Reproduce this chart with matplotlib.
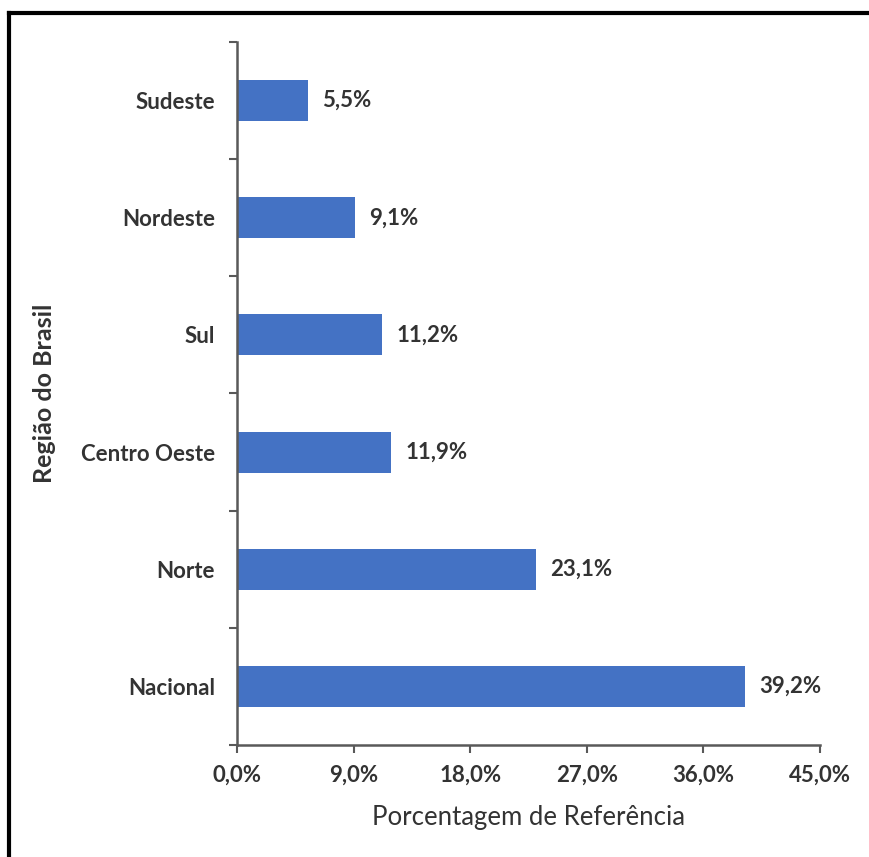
import matplotlib.pyplot as plt
from matplotlib.lines import Line2D
from matplotlib.ticker import FuncFormatter

regioes = ["Nacional", "Norte", "Centro Oeste", "Sul", "Nordeste", "Sudeste"]
percentuais = [39.2, 23.1, 11.9, 11.2, 9.1, 5.5]
xticks = [0, 9, 18, 27, 36, 45]

plt.rcParams['font.family'] = ['Lato', 'DejaVu Sans']
cor_barra = '#4472C4'
cor_texto = '#333333'
cor_eixo = '#595959'

fig = plt.figure(figsize=(8.69, 8.57), dpi=100)
ax = fig.add_axes([0.2727, 0.1307, 0.6709, 0.8203])

pos = range(len(regioes))
ax.barh(pos, percentuais, height=0.35, color=cor_barra)
for y, v in zip(pos, percentuais):
    ax.text(v + 1.1, y, f"{v:.1f}%".replace('.', ','), va='center', ha='left',
            fontsize=16, fontweight='bold', color=cor_texto)

ax.set_xlim(0, 45)
ax.set_ylim(-0.5, len(regioes) - 0.5)
ax.set_xticks(xticks)
ax.xaxis.set_major_formatter(FuncFormatter(lambda v, p: f"{v:.1f}%".replace('.', ',')))
ax.set_yticks(list(pos))
ax.set_yticklabels(regioes)
# marcas do eixo y ficam entre as categorias
ax.set_yticks([i - 0.5 for i in range(len(regioes) + 1)], minor=True)
ax.tick_params(axis='y', which='major', length=0, pad=16, labelsize=16, labelcolor=cor_texto)
ax.tick_params(axis='y', which='minor', length=6, width=1.5, color=cor_eixo)
ax.tick_params(axis='x', length=6, width=1.5, color=cor_eixo, pad=8, labelsize=16, labelcolor=cor_texto)
for lbl in ax.get_xticklabels() + ax.get_yticklabels():
    lbl.set_fontweight('bold')

for s in ['top', 'right']:
    ax.spines[s].set_visible(False)
for s in ['left', 'bottom']:
    ax.spines[s].set_color(cor_eixo)
    ax.spines[s].set_linewidth(1.8)

ax.set_xlabel("Porcentagem de Referência", fontsize=18.5, color=cor_texto, labelpad=14)
ax.set_ylabel("Região do Brasil", fontsize=18, fontweight='bold', color=cor_texto, labelpad=18)

# moldura da imagem (apenas esquerda e topo)
fig.add_artist(Line2D([0.0105, 0.0105], [0, 0.985], transform=fig.transFigure, color='black', lw=3))
fig.add_artist(Line2D([0.0105, 1.0], [0.985, 0.985], transform=fig.transFigure, color='black', lw=3))

fig.savefig("out.png", dpi=100, facecolor='white')
